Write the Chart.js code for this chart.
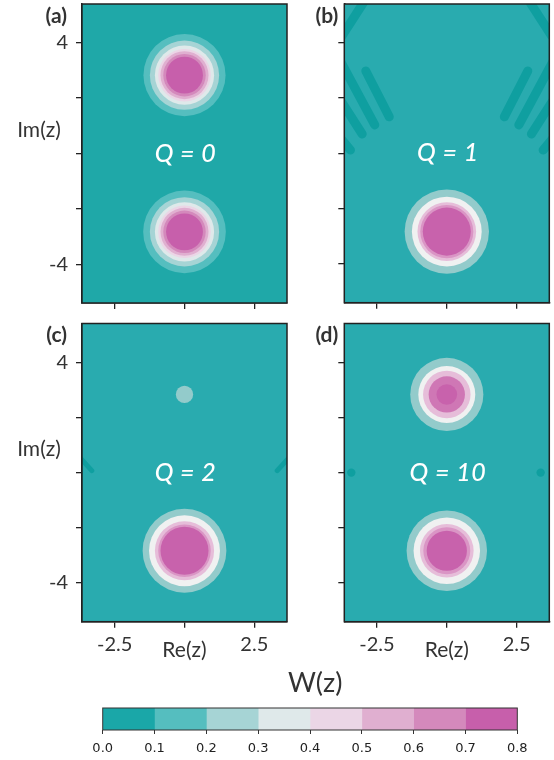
<!DOCTYPE html>
<html>
<head>
<meta charset="utf-8">
<script src="https://cdn.jsdelivr.net/npm/chart.js@4.4.1/dist/chart.umd.min.js"></script>
<style>
  html, body { margin: 0; padding: 0; background: #fff; }
  #fig { position: relative; width: 554px; height: 760px; overflow: hidden; }
  #fig canvas { position: absolute; }
</style>
</head>
<body>
<div id="fig">
  <canvas id="pa" width="300" height="318" style="left:0;top:0"></canvas>
  <canvas id="pb" width="254" height="318" style="left:300px;top:0"></canvas>
  <canvas id="pc" width="300" height="352" style="left:0;top:318px"></canvas>
  <canvas id="pd" width="254" height="352" style="left:300px;top:318px"></canvas>
  <canvas id="cb" width="554" height="90" style="left:0;top:670px"></canvas>
</div>
<script>
// axes
const xTicks = [-2.5, 0, 2.5];
const yTicks = [-4, -2, 0, 2, 4];
const xRange = [-3.67, 3.67];
const yRange = [-5.4, 5.4];

// colour bar boundaries of W(z)
const cbBounds = [0.0, 0.1, 0.2, 0.3, 0.4, 0.5, 0.6, 0.7, 0.8];

// (a) Q = 0 : radius where W(z) crosses each level, per peak
const aTopCenter = [0, 2.83];
const aTopLevels = [0.1, 0.2, 0.3, 0.4, 0.5, 0.6, 0.7];
const aTopRadii = [1.47, 1.24, 1.06, 0.94, 0.86, 0.76, 0.66];
const aBotCenter = [0, -2.83];
const aBotLevels = [0.1, 0.2, 0.3, 0.4, 0.5, 0.6, 0.7];
const aBotRadii = [1.48, 1.24, 1.06, 0.94, 0.86, 0.76, 0.66];

// (b) Q = 1
const bCenter = [0, -2.83];
const bLevels = [0.1, 0.2, 0.3, 0.4, 0.6];
const bRadii = [1.51, 1.25, 1.05, 0.95, 0.86];
// negative W(z) fringes: [x1, y1, x2, y2]
const bFringes = [
  [-3.75, 4.25, -2.92, 5.55],
  [-2.90, 2.98, -2.06, 1.32],
  [-3.95, 3.60, -2.58, 1.03],
  [-3.95, 2.15, -3.03, 0.70],
  [-3.90, 0.67, -3.45, 0.12],
  [3.75, 4.25, 2.92, 5.55],
  [2.90, 2.98, 2.06, 1.32],
  [3.95, 3.60, 2.58, 1.03],
  [3.95, 2.15, 3.03, 0.70],
  [3.90, 0.67, 3.45, 0.12]
];

// (c) Q = 2
const cTopCenter = [0, 2.83];
const cTopLevels = [0.1];
const cTopRadii = [0.31];
const cBotCenter = [0, -2.83];
const cBotLevels = [0.1, 0.2, 0.3, 0.4, 0.6];
const cBotRadii = [1.50, 1.27, 1.06, 0.94, 0.86];
const cFringes = [
  [-3.75, 0.55, -3.32, 0.07],
  [3.75, 0.55, 3.32, 0.07]
];

// (d) Q = 10
const dTopCenter = [0, 2.83];
const dTopLevels = [0.1, 0.2, 0.3, 0.5, 0.6];
const dTopRadii = [1.31, 1.02, 0.85, 0.65, 0.37];
const dBotCenter = [0, -2.83];
const dBotLevels = [0.1, 0.2, 0.3, 0.4, 0.6];
const dBotRadii = [1.44, 1.19, 0.96, 0.84, 0.72];
const dSpots = [[-3.42, 0.0], [3.36, 0.0]];
const dSpotRadius = 0.15;

// colours (index = level * 10)
const cbColors = ['#1aa7a8', '#55bebf', '#a6d4d5', '#dfe9ea', '#ebd6e6', '#e0afd0', '#d489bc', '#c75fab'];
const palA = cbColors;
const palQ = ['#29abaf', '#93cbcb', '#f0f1f1', '#e6bdd9', '#da95c5', '#cf77b5', '#c862ac'];
const fringeColor = '#0f9fa0';

Chart.defaults.font.family = 'Lato';
Chart.defaults.animation = false;
Chart.defaults.events = [];

function pxLen(chart, r) {
  const x = chart.scales.x;
  return Math.abs(x.getPixelForValue(r) - x.getPixelForValue(0));
}

function rings(center, levels, radii, pal) {
  return radii.map((r, i) => ({
    data: [{ x: center[0], y: center[1] }],
    backgroundColor: pal[Math.round(levels[i] * 10)],
    borderWidth: 0,
    pointRadius: c => pxLen(c.chart, r),
    order: 100 - i,
    clip: 0
  }));
}

function fringes(list, width) {
  return list.map(s => ({
    data: [{ x: s[0], y: s[1] }, { x: s[2], y: s[3] }],
    showLine: true,
    borderColor: fringeColor,
    borderWidth: width,
    borderCapStyle: 'round',
    pointRadius: 0,
    order: 200,
    clip: 0
  }));
}

function noEdgePad(ax) {
  ax.paddingTop = 0; ax.paddingBottom = 0;
  ax.paddingLeft = 0; ax.paddingRight = 0;
}

const panelDeco = {
  id: 'panelDeco',
  beforeDatasetsDraw(chart, args, o) {
    const { ctx, chartArea: a } = chart;
    ctx.save();
    ctx.fillStyle = o.bg;
    ctx.fillRect(a.left, a.top, a.width, a.height);
    ctx.restore();
  },
  afterDatasetsDraw(chart, args, o) {
    const { ctx, chartArea: a, scales: { x, y } } = chart;
    ctx.save();
    ctx.fillStyle = '#fff';
    ctx.font = 'italic 500 25px Lato';
    ctx.letterSpacing = '0.5px';
    ctx.textAlign = 'center';
    ctx.textBaseline = 'middle';
    ctx.fillText(o.q, x.getPixelForValue(0) + 1, y.getPixelForValue(0));
    ctx.letterSpacing = '0px';
    ctx.strokeStyle = '#222';
    ctx.lineWidth = 1.5;
    ctx.strokeRect(a.left, a.top, a.width, a.height);
    ctx.restore();
  },
  afterDraw(chart, args, o) {
    const { ctx, chartArea: a, scales: { x, y } } = chart;
    ctx.save();
    ctx.fillStyle = '#333';
    ctx.textBaseline = 'middle';
    ctx.font = 'bold 21px Lato';
    ctx.textAlign = 'right';
    ctx.fillText(o.tag, a.left - o.tagGap, a.top + 12);
    ctx.font = '21px Lato';
    ctx.textAlign = 'center';
    if (o.im) ctx.fillText('Im(z)', a.left - 43, y.getPixelForValue(0.85));
    if (o.re) ctx.fillText('Re(z)', x.getPixelForValue(0), a.bottom + 29);
    ctx.restore();
  }
};

function makePanel(id, datasets, deco, box) {
  new Chart(document.getElementById(id), {
    type: 'scatter',
    data: { datasets },
    options: {
      responsive: false,
      layout: { padding: { top: box.top, right: box.right, left: 0, bottom: 0 } },
      plugins: { legend: { display: false }, tooltip: { enabled: false }, panelDeco: deco },
      scales: {
        x: {
          type: 'linear', min: xRange[0], max: xRange[1],
          afterBuildTicks: ax => { ax.ticks = xTicks.map(v => ({ value: v })); },
          afterFit: ax => { ax.height = box.xh; noEdgePad(ax); },
          ticks: { display: deco.re, color: '#333', font: { size: 20 }, padding: 5,
                   maxRotation: 0, callback: v => (v === 0 ? '' : String(v)) },
          grid: { drawOnChartArea: false, tickLength: 6, color: '#222', lineWidth: 1.3 },
          border: { color: '#222', width: 1.5 }
        },
        y: {
          type: 'linear', min: yRange[0], max: yRange[1],
          afterBuildTicks: ax => { ax.ticks = yTicks.map(v => ({ value: v })); },
          afterFit: ax => { ax.width = box.yw; noEdgePad(ax); },
          ticks: { display: deco.im, color: '#333', font: { size: 20 }, padding: 8,
                   callback: v => (Math.abs(v) === 4 ? String(v) : '') },
          grid: { drawOnChartArea: false, tickLength: 6, color: '#222', lineWidth: 1.3 },
          border: { color: '#222', width: 1.5 }
        }
      }
    },
    plugins: [panelDeco]
  });
}

makePanel('pa',
  [...rings(aTopCenter, aTopLevels, aTopRadii, palA), ...rings(aBotCenter, aBotLevels, aBotRadii, palA)],
  { bg: '#1fa8a8', q: 'Q = 0', tag: '(a)', tagGap: 15, im: true, re: false },
  { top: 4, right: 13, xh: 15, yw: 82 });

makePanel('pb',
  [...fringes(bFringes, 9), ...rings(bCenter, bLevels, bRadii, palQ)],
  { bg: palQ[0], q: 'Q = 1', tag: '(b)', tagGap: 6, im: false, re: false },
  { top: 4, right: 4.7, xh: 15.3, yw: 44.3 });

makePanel('pc',
  [...fringes(cFringes, 5), ...rings(cTopCenter, cTopLevels, cTopRadii, palQ),
   ...rings(cBotCenter, cBotLevels, cBotRadii, palQ)],
  { bg: palQ[0], q: 'Q = 2', tag: '(c)', tagGap: 15, im: true, re: true },
  { top: 5.5, right: 13, xh: 48.3, yw: 82 });

makePanel('pd',
  [{
    data: dSpots.map(p => ({ x: p[0], y: p[1] })),
    backgroundColor: fringeColor, borderWidth: 0,
    pointRadius: c => pxLen(c.chart, dSpotRadius), order: 200, clip: 0
  },
   ...rings(dTopCenter, dTopLevels, dTopRadii, palQ), ...rings(dBotCenter, dBotLevels, dBotRadii, palQ)],
  { bg: palQ[0], q: 'Q = 10', tag: '(d)', tagGap: 6, im: false, re: true },
  { top: 5.5, right: 4.7, xh: 48.3, yw: 44.3 });

// colour bar
const cbDeco = {
  id: 'cbDeco',
  afterDatasetsDraw(chart) {
    const { ctx, chartArea: a, scales: { x } } = chart;
    ctx.save();
    ctx.strokeStyle = '#333';
    ctx.lineWidth = 1;
    ctx.strokeRect(a.left, a.top, a.width, a.height);
    ctx.fillStyle = '#333';
    ctx.font = '27px Lato';
    ctx.textAlign = 'center';
    ctx.textBaseline = 'middle';
    ctx.fillText('W(z)', x.getPixelForValue(0.41), a.top - 25);
    ctx.restore();
  }
};

new Chart(document.getElementById('cb'), {
  type: 'bar',
  data: {
    labels: ['W(z)'],
    datasets: cbColors.map((col, i) => ({
      data: [[cbBounds[i], cbBounds[i + 1]]],
      backgroundColor: col,
      borderWidth: 0,
      grouped: false,
      barPercentage: 1,
      categoryPercentage: 1
    }))
  },
  options: {
    indexAxis: 'y',
    responsive: false,
    layout: { padding: { top: 38, left: 102.7, right: 36.7, bottom: 0 } },
    plugins: { legend: { display: false }, tooltip: { enabled: false } },
    scales: {
      x: {
        type: 'linear', min: 0, max: 0.8,
        afterBuildTicks: ax => { ax.ticks = cbBounds.map(v => ({ value: v })); },
        afterFit: ax => { ax.height = 30; noEdgePad(ax); },
        ticks: { color: '#222', font: { family: 'DejaVu Sans', size: 13 }, padding: 7,
                 maxRotation: 0, callback: v => v.toFixed(1) },
        grid: { drawOnChartArea: false, tickLength: 4, color: '#333' },
        border: { display: false }
      },
      y: { display: false }
    }
  },
  plugins: [cbDeco]
});
</script>
</body>
</html>
